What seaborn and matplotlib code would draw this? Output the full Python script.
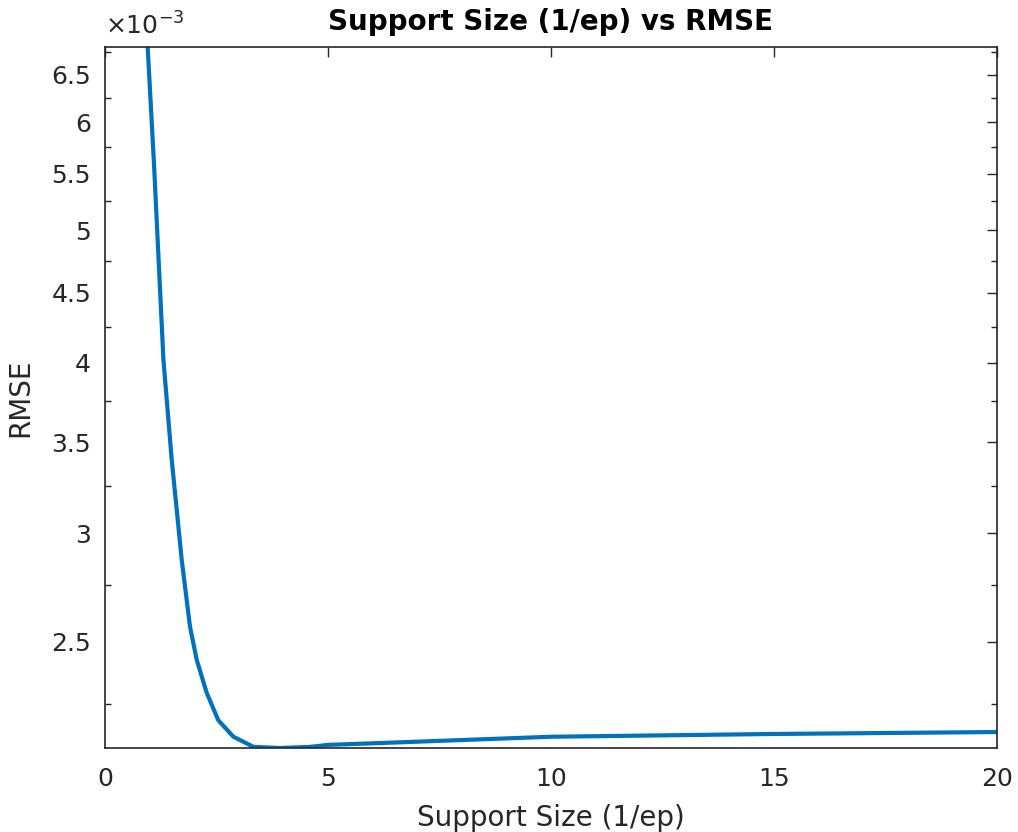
import matplotlib
matplotlib.use("Agg")
import matplotlib.pyplot as plt
import seaborn as sns
import numpy as np
import pandas as pd
from matplotlib.ticker import FixedLocator, NullFormatter

support_size = [0.957, 1.10, 1.31, 1.495, 1.72, 1.906, 2.056, 2.28, 2.54, 2.88,
                3.33, 3.92, 4.6, 5.0, 6.6, 10.0, 15.0, 20.0]
rmse_e3 = [6.81, 5.58, 4.02, 3.40, 2.87, 2.564, 2.425, 2.294, 2.19, 2.13,
           2.094, 2.09, 2.094, 2.101, 2.11, 2.13, 2.14, 2.147]
y_major = [2.5, 3, 3.5, 4, 4.5, 5, 5.5, 6, 6.5]
y_minor = [2.25, 2.75, 3.25, 3.75, 4.25, 4.75, 5.25, 5.75, 6.25, 6.75]
x_ticks = [0, 5, 10, 15, 20]

df = pd.DataFrame({"x": support_size, "y": np.array(rmse_e3) * 1e-3})

sns.set_theme(style="white")
plt.rcParams["font.family"] = ["DejaVu Sans"]

fig = plt.figure(figsize=(10.18, 8.32), dpi=100)
ax = fig.add_axes([105/1018, 1 - 748/832, (997-105)/1018, (748-47)/832])

sns.lineplot(data=df, x="x", y="y", ax=ax, color="#0072BD", linewidth=3.0)
ax.set_yscale("log")
ax.set_xlim(0, 20)
ax.set_ylim(2.09e-3, 6.81e-3)

ax.yaxis.set_major_locator(FixedLocator([v * 1e-3 for v in y_major]))
ax.yaxis.set_minor_locator(FixedLocator([v * 1e-3 for v in y_minor]))
ax.set_yticklabels([f"{v:g}" for v in y_major])
ax.yaxis.set_minor_formatter(NullFormatter())
ax.set_xticks(x_ticks)
ax.set_xticklabels([str(v) for v in x_ticks])

gray = "#262626"
ax.tick_params(axis="both", which="major", direction="in", length=7, width=1,
               top=True, right=True, labelsize=18, colors=gray)
ax.tick_params(axis="y", which="major", pad=10)
ax.tick_params(axis="x", which="major", pad=14)
ax.tick_params(axis="y", which="minor", direction="in", length=4, width=1,
               left=True, right=True, colors=gray)
for s in ax.spines.values():
    s.set_color(gray)
    s.set_linewidth(1.2)

ax.set_xlabel("Support Size (1/ep)", fontsize=20, color=gray, labelpad=9)
ax.set_ylabel("RMSE", fontsize=20, color=gray, labelpad=12)
ax.set_title("Support Size (1/ep) vs RMSE", fontsize=20, fontweight="bold", color="black", pad=12)
ax.text(0.0, 1.01, r"$\times$10$^{-3}$", transform=ax.transAxes, fontsize=18,
        color=gray, ha="left", va="bottom")

fig.savefig("out.png", dpi=100, facecolor="white")
